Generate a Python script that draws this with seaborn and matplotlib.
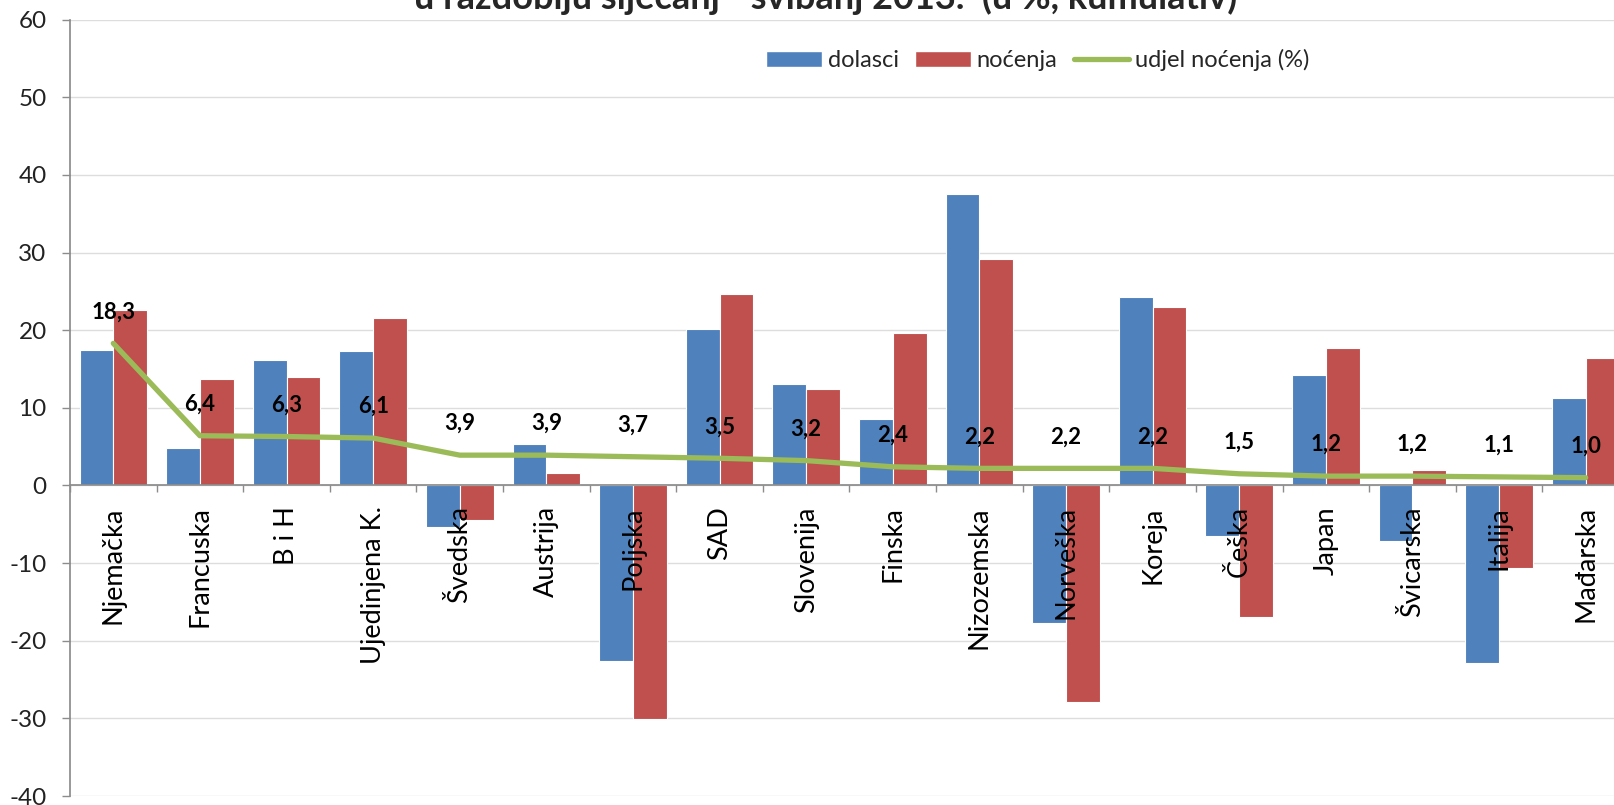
import numpy as np
import pandas as pd
import matplotlib.pyplot as plt
from matplotlib.patches import Patch
from matplotlib.lines import Line2D
import seaborn as sns

zemlje = ['Njemačka', 'Francuska', 'B i H', 'Ujedinjena K.', 'Švedska', 'Austrija',
          'Poljska', 'SAD', 'Slovenija', 'Finska', 'Nizozemska', 'Norveška',
          'Koreja', 'Češka', 'Japan', 'Švicarska', 'Italija', 'Mađarska']
dolasci = [17.4, 4.8, 16.2, 17.3, -5.4, 5.4, -22.6, 20.2, 13.1, 8.5, 37.5, -17.7,
           24.3, -6.5, 14.2, -7.1, -22.9, 11.2]
nocenja = [22.6, 13.7, 14.0, 21.6, -4.4, 1.6, -30.1, 24.6, 12.4, 19.6, 29.2, -27.9,
           23.0, -16.9, 17.7, 2.0, -10.6, 16.4]
udjel = [18.3, 6.4, 6.3, 6.1, 3.9, 3.9, 3.7, 3.5, 3.2, 2.4, 2.2, 2.2, 2.2, 1.5,
         1.2, 1.2, 1.1, 1.0]
serije = ['dolasci', 'noćenja', 'udjel noćenja (%)']
boje = ['#4F81BD', '#C0504D', '#9BBB59']
naslov = 'u razdoblju siječanj - svibanj 2013.  (u %, kumulativ)'

sns.set_theme(style='white')
plt.rcParams['font.family'] = ['Lato', 'DejaVu Sans']
plt.rcParams['axes.unicode_minus'] = False

n = len(zemlje)
df = pd.DataFrame({
    'zemlja': zemlje * 2,
    'vrijednost': dolasci + nocenja,
    'serija': [serije[0]] * n + [serije[1]] * n,
})

fig = plt.figure(figsize=(16.15, 8.05), dpi=100)
ax = fig.add_axes([70 / 1615, 9 / 805, 1559 / 1615, 776.4 / 805])

sns.barplot(data=df, x='zemlja', y='vrijednost', hue='serija',
            palette=boje[:2], width=0.78, saturation=1,
            edgecolor='white', linewidth=0.8, legend=False, ax=ax)

# udio u noćenjima
sns.lineplot(x=np.arange(n), y=udjel, color=boje[2], linewidth=3.8,
             sort=False, ax=ax, zorder=3)
for i, v in enumerate(udjel):
    ax.annotate(f'{v:.1f}'.replace('.', ','), (i, v), xytext=(0, 22.7),
                textcoords='offset points', ha='center', va='center',
                fontsize=16, fontweight='bold', color='black', zorder=4)

ax.set_ylim(-40, 60)
ax.set_xlim(-0.5, n - 0.5)
ax.set_xlabel('')
ax.set_ylabel('')

# osi
for s in ['top', 'right']:
    ax.spines[s].set_visible(False)
ax.spines['left'].set_color('#8C8C8C')
ax.spines['bottom'].set_color('#8C8C8C')
ax.spines['bottom'].set_position(('data', 0))

ax.set_xticks(np.arange(n + 1) - 0.5)
ax.set_xticklabels([])
ax.set_xticks(np.arange(n), minor=True)
ax.set_xticklabels(zemlje, minor=True, rotation=90, fontsize=19.5, color='black')
ax.tick_params(axis='x', which='major', length=5, width=1, color='#8C8C8C',
               direction='out', bottom=True)
ax.tick_params(axis='x', which='minor', length=0, pad=15, bottom=True)

ax.set_yticks(range(-40, 61, 10))
ax.tick_params(axis='y', length=5.8, width=1, color='#8C8C8C', direction='out',
               left=True, labelsize=17.5, labelcolor='#222222', pad=11)

ax.set_axisbelow(False)
for y in ax.get_yticks():
    ax.axhline(y, color='#DDDDDD', linewidth=1, zorder=0)

handles = [Patch(facecolor=boje[0]), Patch(facecolor=boje[1]),
           Line2D([], [], color=boje[2], linewidth=3.8)]
fig.legend(handles, serije, loc='center', bbox_to_anchor=(1038 / 1615, 1 - 60 / 805),
           ncol=3, frameon=False, fontsize=17, handlelength=2.35,
           handletextpad=0.25, columnspacing=0.7)

fig.text(826 / 1615, 1 - 9 / 805, naslov, ha='center', va='baseline',
         fontsize=26, fontweight='bold')

fig.savefig('out.png', dpi=100)
